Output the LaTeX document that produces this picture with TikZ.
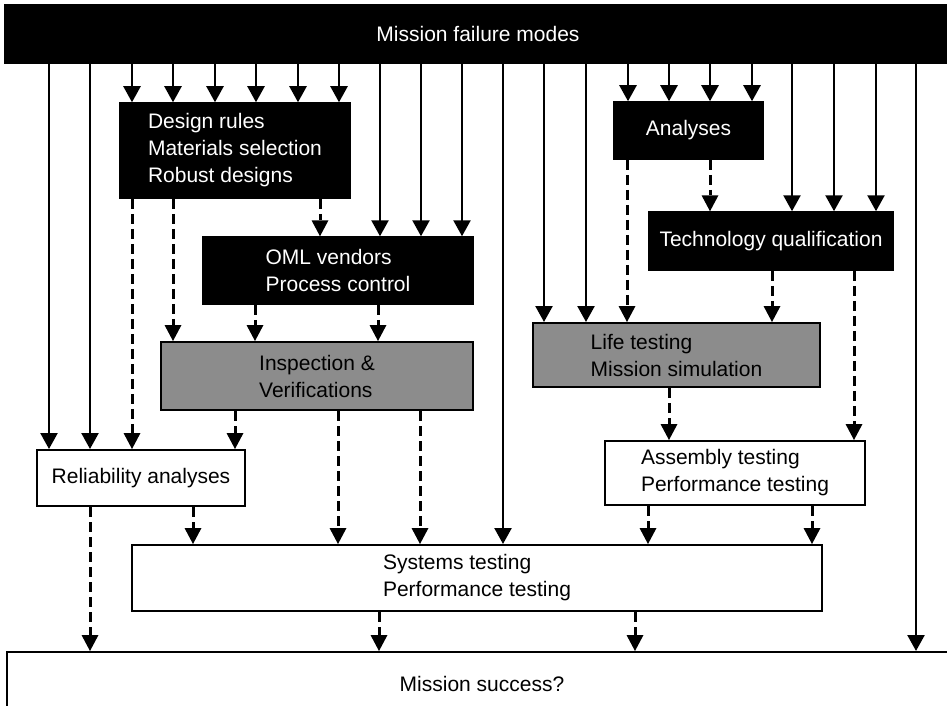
\documentclass[tikz,border=0pt]{standalone}
\usepackage{fontspec}
\setmainfont{Liberation Sans}
\usetikzlibrary{arrows.meta}
\newcommand\conn[4]{\draw[#1] (#2 -| #4,0) -- (#3 -| #4,0);}
\begin{document}
\begin{tikzpicture}[x=1pt,y=-1pt,
  every node/.style={font=\fontsize{21}{27}\selectfont, inner sep=0pt, align=left},
  blackbox/.style={draw=black, fill=black, text=white, line width=1.5pt},
  graybox/.style={draw=black, fill=black!45, text=black, line width=2pt},
  whitebox/.style={draw=black, fill=white, text=black, line width=2pt},
  sol/.style={line width=2.4pt, -{Triangle[width=17pt,length=16pt]}},
  dsh/.style={line width=3pt, dash pattern=on 10pt off 5pt, -{Triangle[width=17pt,length=16pt,line width=0pt]}}]
\useasboundingbox (0,0) rectangle (947,706);
\clip (0,0) rectangle (947,706);
\fill[white] (0,0) rectangle (947,706);
% boxes
\node[blackbox, minimum width=946, minimum height=58] (top) at (478,34) {Mission failure modes};
\node[blackbox, minimum width=230, minimum height=95] (design) at (235,150.5) {Design rules\\Materials selection\\Robust designs};
\node[blackbox, minimum width=270, minimum height=67] (oml) at (338,270.5) {OML vendors\\Process control};
\node[graybox, minimum width=312, minimum height=68] (insp) at (317,376) {Inspection \&\\Verifications};
\node[blackbox, minimum width=149, minimum height=57] (analyses) at (688.5,130.5) {Analyses};
\node[blackbox, minimum width=244, minimum height=58] (tech) at (771,241) {Technology qualification};
\node[graybox, minimum width=287, minimum height=64] (life) at (676.5,355) {Life testing\\Mission simulation};
\node[whitebox, minimum width=208, minimum height=56] (rel) at (141,478) {Reliability analyses};
\node[whitebox, minimum width=260, minimum height=64] (assembly) at (735,473) {Assembly testing\\Performance testing};
\node[whitebox, minimum width=690, minimum height=66] (systems) at (477,578) {Systems testing\\Performance testing};
\node[whitebox, minimum width=950, minimum height=64] (success) at (482,684) {Mission success?};
% solid connectors from the top bar
\foreach \x in {49,90} {\conn{sol}{top.south}{rel.north}{\x}}
\foreach \x in {132,173,215,256,298,339} {\conn{sol}{top.south}{design.north}{\x}}
\foreach \x in {380,421,462} {\conn{sol}{top.south}{oml.north}{\x}}
\conn{sol}{top.south}{systems.north}{503}
\foreach \x in {544,586} {\conn{sol}{top.south}{life.north}{\x}}
\foreach \x in {628,669,710,752} {\conn{sol}{top.south}{analyses.north}{\x}}
\foreach \x in {792,834,876} {\conn{sol}{top.south}{tech.north}{\x}}
\conn{sol}{top.south}{success.north}{916}
% dashed connectors
\conn{dsh}{design.south}{rel.north}{132}
\conn{dsh}{design.south}{insp.north}{173}
\conn{dsh}{design.south}{oml.north}{320}
\foreach \x in {255,378} {\conn{dsh}{oml.south}{insp.north}{\x}}
\conn{dsh}{insp.south}{rel.north}{235}
\foreach \x in {338,420} {\conn{dsh}{insp.south}{systems.north}{\x}}
\conn{dsh}{rel.south}{success.north}{90}
\conn{dsh}{rel.south}{systems.north}{193}
\conn{dsh}{analyses.south}{life.north}{627}
\conn{dsh}{analyses.south}{tech.north}{710}
\conn{dsh}{tech.south}{life.north}{772}
\conn{dsh}{tech.south}{assembly.north}{854}
\conn{dsh}{life.south}{assembly.north}{669}
\foreach \x in {648,812} {\conn{dsh}{assembly.south}{systems.north}{\x}}
\foreach \x in {379,635} {\conn{dsh}{systems.south}{success.north}{\x}}
\end{tikzpicture}
\end{document}
